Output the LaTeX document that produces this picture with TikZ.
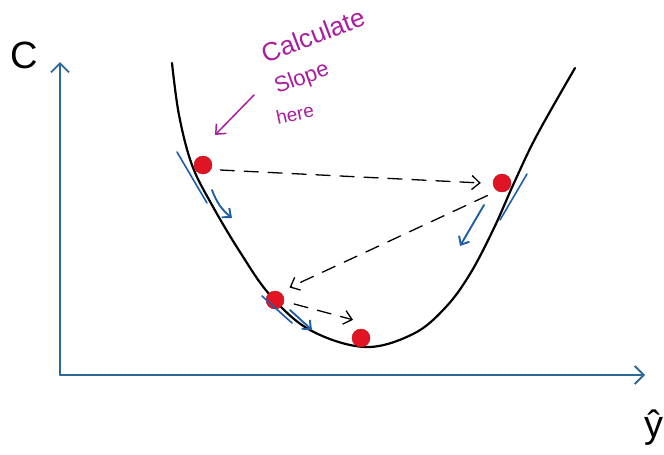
\documentclass[tikz,border=0pt]{standalone}
\usepackage{fontspec}
\setmainfont{Liberation Sans}
\usetikzlibrary{arrows.meta}
\definecolor{axisblue}{RGB}{45,105,150}
\definecolor{tanblue}{RGB}{30,95,165}
\definecolor{dotred}{RGB}{225,20,35}
\definecolor{notepink}{RGB}{170,30,160}
\begin{document}
\begin{tikzpicture}[x=1pt,y=-1pt,line cap=round,line join=round,
  axis/.style={draw=axisblue,line width=1.8pt,-{Straight Barb[length=9pt,width=18pt]}},
  dot/.style={circle,fill=dotred,draw=dotred!80!black,line width=.4pt,inner sep=0pt,minimum size=18pt},
  jump/.style={dashed,dash pattern=on 14pt off 10pt,line width=1.3pt,-{Straight Barb[length=8pt,width=14pt]}},
  tangent/.style={draw=tanblue,line width=1.6pt},
  push/.style={draw=tanblue,line width=1.9pt,-{Straight Barb[length=7pt,width=12pt]}},
  note/.style={text=notepink,inner sep=0pt},
  big/.style={font=\fontsize{38}{38}\selectfont,inner sep=0pt}]
\useasboundingbox (0,0) rectangle (664,455);
% axes
\coordinate (O) at (60,375);
\coordinate (ytop) at (60,62);
\coordinate (xend) at (645,375);
\draw[axis] (O) -- (ytop);
\draw[axis] (O) -- (xend);
\node[big] (clab) at (24,55) {C};
\node[big,anchor=east] (ylab) at (664,428) {ŷ};
% cost curve
\draw[line width=2.2pt] plot[smooth,tension=.6] coordinates
  {(172,63) (179,115) (192,165) (212,205) (240,252) (270,295) (310,330)
   (365,347) (413,334) (445,308) (470,274) (494,228) (514,183) (537,135)
   (575,68)};
% steps
\node[dot] (p1) at (203,165) {};
\node[dot] (p2) at (502,183) {};
\node[dot] (p3) at (275,300) {};
\node[dot] (p4) at (361,338) {};
\draw[jump] ([shift={(8,5)}]p1.east) -- ([xshift=-12pt]p2.west);
\draw[jump] ([shift={(-8,6)}]p2.south west) -- ([shift={(8,-6)}]p3.north east);
\draw[jump] ([shift={(10,4)}]p3.east) -- ([shift={(-8,-9)}]p4.north);
% tangent slopes
\draw[tangent] (177,152) -- (207,203);
\draw[push] (212,190) to[bend right=15] (232,218);
\draw[tangent] (527,174) -- (500,220);
\draw[push] (484,205) -- (460,246);
\draw[tangent] (262,296) -- (292,323);
\draw[push] (290,310) -- (312,330);
% note
\node[note,rotate=21,font=\fontsize{26}{26}\selectfont] (calc) at (313,35) {Calculate};
\node[note,rotate=20,font=\fontsize{22}{22}\selectfont] (slope) at (302,79) {Slope};
\node[note,rotate=12,font=\fontsize{19}{19}\selectfont] (here) at (295,114) {here};
\draw[draw=notepink,line width=1.5pt,-{Straight Barb[length=8pt,width=14pt]}] (254,95) -- (215,135);
\end{tikzpicture}
\end{document}
